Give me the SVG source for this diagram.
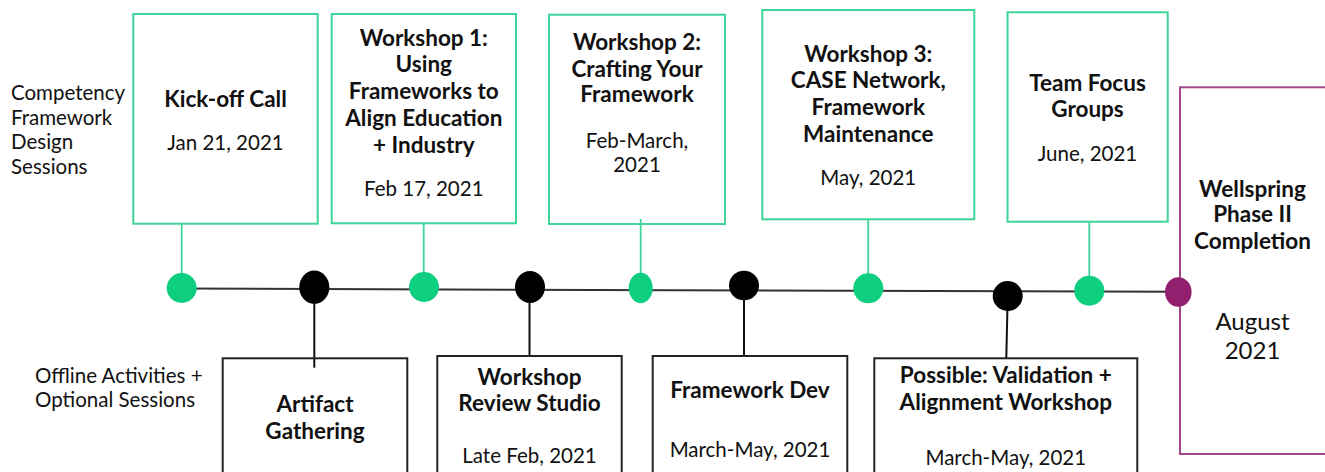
<svg xmlns="http://www.w3.org/2000/svg" width="1325" height="472" viewBox="0 0 1325 472">
<style>
.t{font-family:Lato,"Liberation Sans",sans-serif;fill:#111;text-anchor:middle}
.s{text-anchor:start}
.b{font-weight:bold;font-size:22.5px}
.r{font-size:20.5px}
.l{font-size:20.5px}
.gbox{fill:none;stroke:#3dd598;stroke-width:2}
.kbox{fill:none;stroke:#222;stroke-width:2}
.pbox{fill:none;stroke:#a3478a;stroke-width:2}
.gl{stroke:#3dd598;stroke-width:1.8}
.kl{stroke:#111;stroke-width:2}
.gc{fill:#0dcf7f}
.kc{fill:#000}
.pc{fill:#93206e}
</style>
<rect width="1325" height="472" fill="#fff"/>
<g id="labels">
<text class="t s l" x="11" y="100">Competency</text>
<text class="t s l" x="11" y="124.5">Framework</text>
<text class="t s l" x="11" y="149">Design</text>
<text class="t s l" x="11" y="173.5">Sessions</text>
<text class="t s l" x="35" y="383">Offline Activities +</text>
<text class="t s l" x="35" y="407">Optional Sessions</text>
</g>
<g id="connectors">
<line x1="182" y1="288.6" x2="1178" y2="291.8" stroke="#333" stroke-width="2"/>
<line class="gl" x1="181.7" y1="224" x2="181.7" y2="280"/>
<line class="gl" x1="423.7" y1="224" x2="423.7" y2="280"/>
<line class="gl" x1="640.7" y1="219" x2="640.7" y2="280"/>
<line class="gl" x1="868.2" y1="219.5" x2="868.2" y2="280"/>
<line class="gl" x1="1089.3" y1="222" x2="1089.3" y2="280"/>
<line class="kl" x1="314.3" y1="295" x2="314.3" y2="367.7"/>
<line class="kl" x1="529.5" y1="295" x2="529.5" y2="356"/>
<line class="kl" x1="744" y1="295" x2="744" y2="356"/>
<line class="kl" x1="1007.5" y1="305" x2="1006.3" y2="358"/>
</g>
<g id="kickoff">
<rect class="gbox" x="133.3" y="14" width="184.4" height="209.7"/>
<text class="t b" x="225.5" y="107">Kick-off Call</text>
<text class="t r" x="225.5" y="150">Jan 21, 2021</text>
<circle class="gc" cx="181.7" cy="288" r="15"/>
</g>
<g id="workshop1">
<rect class="gbox" x="331.7" y="14" width="184.3" height="209.3"/>
<text class="t b" x="423.8" y="45.7">Workshop 1:</text>
<text class="t b" x="423.8" y="72">Using</text>
<text class="t b" x="423.8" y="99">Frameworks to</text>
<text class="t b" x="423.8" y="126">Align Education</text>
<text class="t b" x="423.8" y="152.7">+ Industry</text>
<text class="t r" x="423.8" y="196">Feb 17, 2021</text>
<circle class="gc" cx="424" cy="287" r="15"/>
</g>
<g id="workshop2">
<rect class="gbox" x="549" y="14.7" width="176" height="209.3"/>
<text class="t b" x="637" y="50">Workshop 2:</text>
<text class="t b" x="637" y="76.5">Crafting Your</text>
<text class="t b" x="637" y="102">Framework</text>
<text class="t r" x="637" y="148">Feb-March,</text>
<text class="t r" x="637" y="172">2021</text>
<ellipse class="gc" cx="640.7" cy="288" rx="12" ry="15.3"/>
</g>
<g id="workshop3">
<rect class="gbox" x="762.3" y="10" width="212" height="209.3"/>
<text class="t b" x="868.3" y="61.7">Workshop 3:</text>
<text class="t b" x="868.3" y="88.3">CASE Network,</text>
<text class="t b" x="868.3" y="115">Framework</text>
<text class="t b" x="868.3" y="141.7">Maintenance</text>
<text class="t r" x="868.3" y="185">May, 2021</text>
<circle class="gc" cx="868.3" cy="288.3" r="15"/>
</g>
<g id="focus">
<rect class="gbox" x="1007.5" y="12.3" width="160.2" height="209.4"/>
<text class="t b" x="1087.5" y="90.7">Team Focus</text>
<text class="t b" x="1087.5" y="116.7">Groups</text>
<text class="t r" x="1087.5" y="161">June, 2021</text>
<circle class="gc" cx="1089.3" cy="290.7" r="15"/>
</g>
<g id="completion">
<rect class="pbox" x="1180" y="87.3" width="160" height="366.7"/>
<text class="t b" x="1252.5" y="196.7">Wellspring</text>
<text class="t b" x="1252.5" y="222.3">Phase II</text>
<text class="t b" x="1252.5" y="249.3">Completion</text>
<text class="t" x="1252.5" y="330" font-size="24">August</text>
<text class="t" x="1252.5" y="359.3" font-size="24">2021</text>
<ellipse class="pc" cx="1178.3" cy="292" rx="13.3" ry="14.7"/>
</g>
<g id="artifact">
<rect class="kbox" x="222.7" y="358.3" width="184.6" height="130"/>
<text class="t b" x="315" y="412">Artifact</text>
<text class="t b" x="315" y="439">Gathering</text>
<ellipse class="kc" cx="314.3" cy="287.3" rx="15" ry="16.7"/>
</g>
<g id="review">
<rect class="kbox" x="437.3" y="356" width="184.4" height="130"/>
<text class="t b" x="529.5" y="385">Workshop</text>
<text class="t b" x="529.5" y="411">Review Studio</text>
<text class="t r" x="529.5" y="463">Late Feb, 2021</text>
<ellipse class="kc" cx="530" cy="287" rx="15" ry="16"/>
</g>
<g id="frameworkdev">
<rect class="kbox" x="652.7" y="356" width="194.6" height="130"/>
<text class="t b" x="750" y="398.3">Framework Dev</text>
<text class="t r" x="750" y="456.7">March-May, 2021</text>
<ellipse class="kc" cx="744" cy="285.5" rx="15" ry="14.7"/>
</g>
<g id="validation">
<rect class="kbox" x="874.3" y="358.3" width="263" height="130"/>
<text class="t b" x="1005.8" y="383.3">Possible: Validation +</text>
<text class="t b" x="1005.8" y="410">Alignment Workshop</text>
<text class="t r" x="1005.8" y="465">March-May, 2021</text>
<circle class="kc" cx="1007.7" cy="296" r="15"/>
</g>
</svg>
